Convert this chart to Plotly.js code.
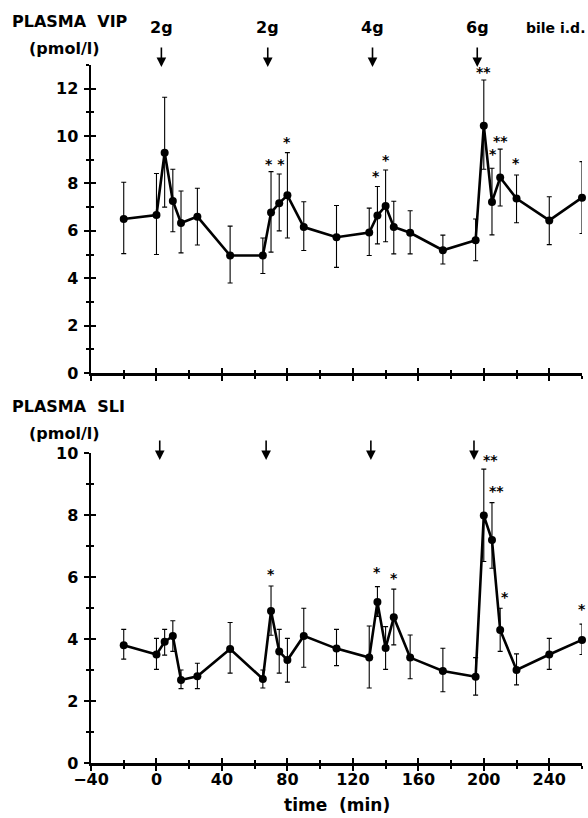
<!DOCTYPE html>
<html>
<head>
<meta charset="utf-8">
<script src="https://cdn.plot.ly/plotly-3.0.1.min.js"></script>
<style>html,body{margin:0;padding:0;background:#fff;}#chart{width:588px;height:818px;}</style>
</head>
<body>
<div id="chart"></div>
<script>
// ---- data ----
var time = [-20,0,5,10,15,25,45,65,70,75,80,90,110,130,135,140,145,155,175,195,200,205,210,220,240,260];

var vipMean  = [6.5,6.67,9.3,7.26,6.33,6.6,4.96,4.96,6.77,7.17,7.5,6.16,5.73,5.93,6.65,7.05,6.16,5.92,5.18,5.6,10.44,7.22,8.25,7.36,6.44,7.4];
var vipUpper = [8.05,8.42,11.64,8.6,7.68,7.8,6.2,5.7,8.5,8.4,9.3,7.23,7.07,6.96,7.87,8.57,7.25,6.85,5.82,6.5,12.37,8.64,9.45,8.36,7.44,8.92];
var vipLower = [5.04,5.0,7.0,5.96,5.07,5.4,3.8,4.2,5.1,6.0,5.7,5.17,4.46,4.96,5.45,5.54,5.03,5.03,4.6,4.74,8.6,5.83,7.05,6.34,5.42,5.89];

var sliMean  = [3.8,3.5,3.91,4.1,2.68,2.8,3.68,2.71,4.9,3.6,3.32,4.1,3.69,3.4,5.19,3.71,4.7,3.4,2.97,2.78,7.98,7.19,4.29,3.0,3.5,3.97];
var sliUpper = [4.31,4.02,4.31,4.59,3.0,3.22,4.53,3.0,5.71,4.31,4.02,4.99,4.31,4.42,5.69,4.4,5.61,4.13,3.7,3.4,9.48,8.4,4.99,3.52,4.02,4.48];
var sliLower = [3.35,3.02,3.48,3.6,2.4,2.4,2.9,2.42,4.12,2.9,2.61,3.09,3.14,2.42,4.73,3.02,3.81,2.72,2.3,2.19,6.5,6.28,3.6,2.52,3.02,3.5];

var vipStarX    = [72.5,80,134,140,200,205.5,210,219.6];
var vipStarY    = [8.84,9.76,8.32,8.98,12.72,9.24,9.8,8.86];
var vipStarText = ["* *","*","*","*","**","*","**","*"];

var sliStarX    = [70,135,145,204,208,213,260];
var sliStarY    = [6.1,6.17,5.97,9.77,8.78,5.36,4.97];
var sliStarText = ["*","*","*","**","**","*","*"];

var doseTimes   = [3,68,132,196];
var doseTimesLo = [2,67,131,194];
var doseLabels  = ["2g","2g","4g","6g"];

var xTicks = [-40,0,40,80,120,160,200,240];
var vipTicks = [0,2,4,6,8,10,12];
var sliTicks = [0,2,4,6,8,10];

// ---- helpers ----
function diff(a,b){return a.map(function(v,i){return v-b[i];});}
var FONT = "DejaVu Sans, sans-serif";
var tf = {family:FONT, size:16, color:"#000", weight:"bold"};

function seriesTrace(y, up, lo, xa, ya){
  return {
    x: time, y: y, xaxis: xa, yaxis: ya, type: "scatter", mode: "lines+markers",
    line: {color:"#000", width:2.6},
    marker: {color:"#000", size:8},
    cliponaxis: false,
    error_y: {type:"data", symmetric:false, array: diff(up,y), arrayminus: diff(y,lo),
              color:"#000", thickness:1.1, width:2.5},
    hoverinfo: "skip", showlegend:false
  };
}

var data = [
  seriesTrace(vipMean, vipUpper, vipLower, "x", "y"),
  seriesTrace(sliMean, sliUpper, sliLower, "x2", "y2"),
  {x:[],y:[],xaxis:"x3",yaxis:"y",showlegend:false},
  {x:[],y:[],xaxis:"x",yaxis:"y3",showlegend:false},
  {x:[],y:[],xaxis:"x4",yaxis:"y2",showlegend:false},
  {x:[],y:[],xaxis:"x2",yaxis:"y4",showlegend:false}
];

var topDom = [1-373/818, 1-65/818];
var botDom = [1-763/818, 1-453/818];

function xAx(anchor, labels, inside, overlay){
  var a = {
    range:[-40,260], anchor: anchor, showgrid:false, zeroline:false,
    showline: !inside, linecolor:"#000", linewidth:2.5,
    tickmode:"array", tickvals:xTicks, ticks: inside?"inside":"outside",
    ticklen:5, tickwidth:2, tickcolor:"#000",
    minor:{dtick:20, tick0:0, ticks: inside?"inside":"outside", ticklen:3, tickwidth:2, tickcolor:"#000"},
    showticklabels: labels && !inside, tickfont: tf, ticklabelstandoff: -5
  };
  if(overlay) a.overlaying = overlay;
  return a;
}
function yAx(anchor, dom, range, tv, inside, overlay){
  var a = {
    range: range, anchor: anchor, showgrid:false, zeroline:false,
    showline: !inside, linecolor:"#000", linewidth:2.5,
    tickmode:"array", tickvals:tv, ticks: inside?"inside":"outside",
    ticklen:5, tickwidth:2, tickcolor:"#000",
    minor:{dtick:1, tick0:0, ticks: inside?"inside":"outside", ticklen:3, tickwidth:2, tickcolor:"#000"},
    showticklabels: !inside, tickfont: tf, ticklabelstandoff: 2
  };
  if(overlay) a.overlaying = overlay; else a.domain = dom;
  return a;
}

var layout = {
  width:588, height:818,
  margin:{l:91, r:6, t:0, b:0},
  paper_bgcolor:"#fff", plot_bgcolor:"rgba(0,0,0,0)",
  showlegend:false,
  xaxis:  xAx("y", false, false),
  yaxis:  yAx("x", topDom, [0,13], vipTicks, false),
  xaxis2: xAx("y2", true, false),
  yaxis2: yAx("x2", botDom, [0,10], sliTicks, false),
  xaxis3: xAx("y", false, true, "x"),
  yaxis3: yAx("x", topDom, [0,13], vipTicks, true, "y"),
  xaxis4: xAx("y2", false, true, "x2"),
  yaxis4: yAx("x2", botDom, [0,10], sliTicks, true, "y2"),
  annotations: []
};

var A = layout.annotations;
function txt(t, x, y, xref, yref, size, xanchor){
  A.push({text:t, x:x, y:y, xref:xref, yref:yref, showarrow:false,
          xanchor:xanchor||"center", yanchor:"middle",
          font:{family:FONT, size:size, color:"#000", weight:"bold"}});
}
// panel titles and axis title
txt("PLASMA\u00A0\u00A0VIP", -0.165, 1-21/818, "paper", "paper", 16, "left");
txt("(pmol/l)", -0.053, 1-48/818, "paper", "paper", 16);
txt("PLASMA\u00A0\u00A0SLI", -0.165, 1-407/818, "paper", "paper", 16, "left");
txt("(pmol/l)", -0.053, 1-433/818, "paper", "paper", 16);
txt("bile i.d.", (555-91)/491, 1-28/818, "paper", "paper", 14);
txt("time\u00A0\u00A0(min)", 0.5, 1-805/818, "paper", "paper", 17);

// dose labels and arrows
doseTimes.forEach(function(t,i){
  txt(doseLabels[i], t, 1-27/818, "x", "paper", 16);
  A.push({x:t, y:1-67/818, xref:"x", yref:"paper", text:"", showarrow:true,
          ax:0, ay:-21, arrowhead:2, arrowsize:1.2, arrowwidth:1.6, arrowcolor:"#000"});
});
doseTimesLo.forEach(function(t){
  A.push({x:t, y:1-460/818, xref:"x2", yref:"paper", text:"", showarrow:true,
          ax:0, ay:-21, arrowhead:2, arrowsize:1.2, arrowwidth:1.6, arrowcolor:"#000"});
});

// significance stars
vipStarX.forEach(function(x,i){ txt(vipStarText[i], x, vipStarY[i], "x", "y", 14); });
sliStarX.forEach(function(x,i){ txt(sliStarText[i], x, sliStarY[i], "x2", "y2", 14); });

Plotly.newPlot("chart", data, layout, {staticPlot:true, displayModeBar:false});
</script>
</body>
</html>
